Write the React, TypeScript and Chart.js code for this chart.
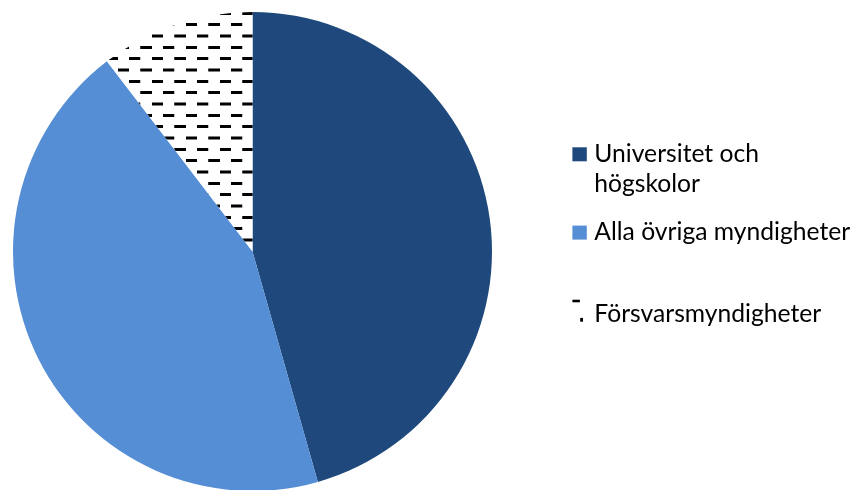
import React, { useEffect, useRef } from 'react';
import { Chart, registerables } from 'chart.js';

Chart.register(...registerables);

// ---- data ----
const categories: string[][] = [
  ['Universitet och', 'högskolor'],
  ['Alla övriga myndigheter'],
  ['Försvarsmyndigheter'],
];
const shares: number[] = [45.6, 44.0, 10.4];
const sliceColors: string[] = ['#1F497D', '#558ED5', 'PATTERN'];

const FONT = 'Lato, "Open Sans", sans-serif';

function makeDashPattern(ctx: CanvasRenderingContext2D): CanvasPattern | string {
  const t = document.createElement('canvas');
  t.width = 68;
  t.height = 68;
  const c = t.getContext('2d')!;
  c.fillStyle = '#ffffff';
  c.fillRect(0, 0, 68, 68);
  c.fillStyle = '#000000';
  c.fillRect(0, 0, 34, 9);
  c.fillRect(34, 34, 34, 9);
  const p = ctx.createPattern(t, 'repeat');
  if (!p) return '#ffffff';
  p.setTransform(new DOMMatrix([1 / 3, 0, 0, 1 / 3, 4.4, 0.5]));
  return p;
}

const legendPlugin = {
  id: 'officeLegend',
  afterDraw(chart: any, _args: any, opts: any) {
    const ctx: CanvasRenderingContext2D = chart.ctx;
    ctx.save();
    ctx.font = `24px ${FONT}`;
    const measured = ctx.measureText(opts.fitText).width;
    const size = (24 * opts.fitWidth) / measured;
    ctx.font = `${size}px ${FONT}`;
    ctx.textBaseline = 'alphabetic';
    ctx.textAlign = 'left';
    let y = opts.firstBaseline;
    const labels = chart.data.labels as (string | string[])[];
    labels.forEach((lab, i) => {
      const lines = Array.isArray(lab) ? lab : [lab];
      const bg = chart.data.datasets[0].backgroundColor[i];
      if (typeof bg === 'string') {
        ctx.fillStyle = bg;
        ctx.fillRect(opts.markerX, y - 14.4, 14.4, 14);
      } else {
        ctx.fillStyle = '#000000';
        ctx.fillRect(opts.markerX, y - 22, 7.5, 2.6);
        ctx.fillRect(opts.markerX + 7.8, y - 3.8, 2.8, 3.8);
      }
      ctx.fillStyle = '#000000';
      lines.forEach((ln, j) => ctx.fillText(ln, opts.textX, y + j * opts.lineHeight));
      y += (lines.length - 1) * opts.lineHeight + (opts.gaps[i] ?? 0);
    });
    ctx.restore();
  },
};

export default function App() {
  const ref = useRef<HTMLCanvasElement | null>(null);

  useEffect(() => {
    let chart: Chart | null = null;
    let cancelled = false;
    const build = () => {
      if (cancelled || !ref.current) return;
      const ctx = ref.current.getContext('2d')!;
      const pattern = makeDashPattern(ctx);
      const bgs = sliceColors.map((c) => (c === 'PATTERN' ? pattern : c));
      chart = new Chart(ctx, {
        type: 'pie',
        data: {
          labels: categories as any,
          datasets: [
            {
              data: shares,
              backgroundColor: bgs as any,
              borderWidth: 0,
            },
          ],
        },
        options: {
          animation: false,
          responsive: false,
          events: [],
          layout: { padding: { left: 13, top: 12, right: 363, bottom: 12 } },
          plugins: {
            legend: { display: false },
            tooltip: { enabled: false },
            officeLegend: {
              fitText: 'Alla övriga myndigheter',
              fitWidth: 256,
              markerX: 572.4,
              textX: 594.3,
              firstBaseline: 161.7,
              lineHeight: 30,
              gaps: [48.3, 81.7, 0],
            },
          } as any,
        },
        plugins: [legendPlugin as any],
      });
    };
    const fonts: any = (document as any).fonts;
    if (fonts && fonts.load) {
      fonts.load(`24px Lato`).then(build, build);
    } else {
      build();
    }
    return () => {
      cancelled = true;
      if (chart) chart.destroy();
    };
  }, []);

  return (
    <div
      style={{
        position: 'fixed',
        left: 0,
        top: 0,
        width: 855,
        height: 490,
        overflow: 'hidden',
        background: '#ffffff',
      }}
    >
      <canvas ref={ref} width={855} height={503} style={{ display: 'block', width: 855, height: 503 }} />
    </div>
  );
}
